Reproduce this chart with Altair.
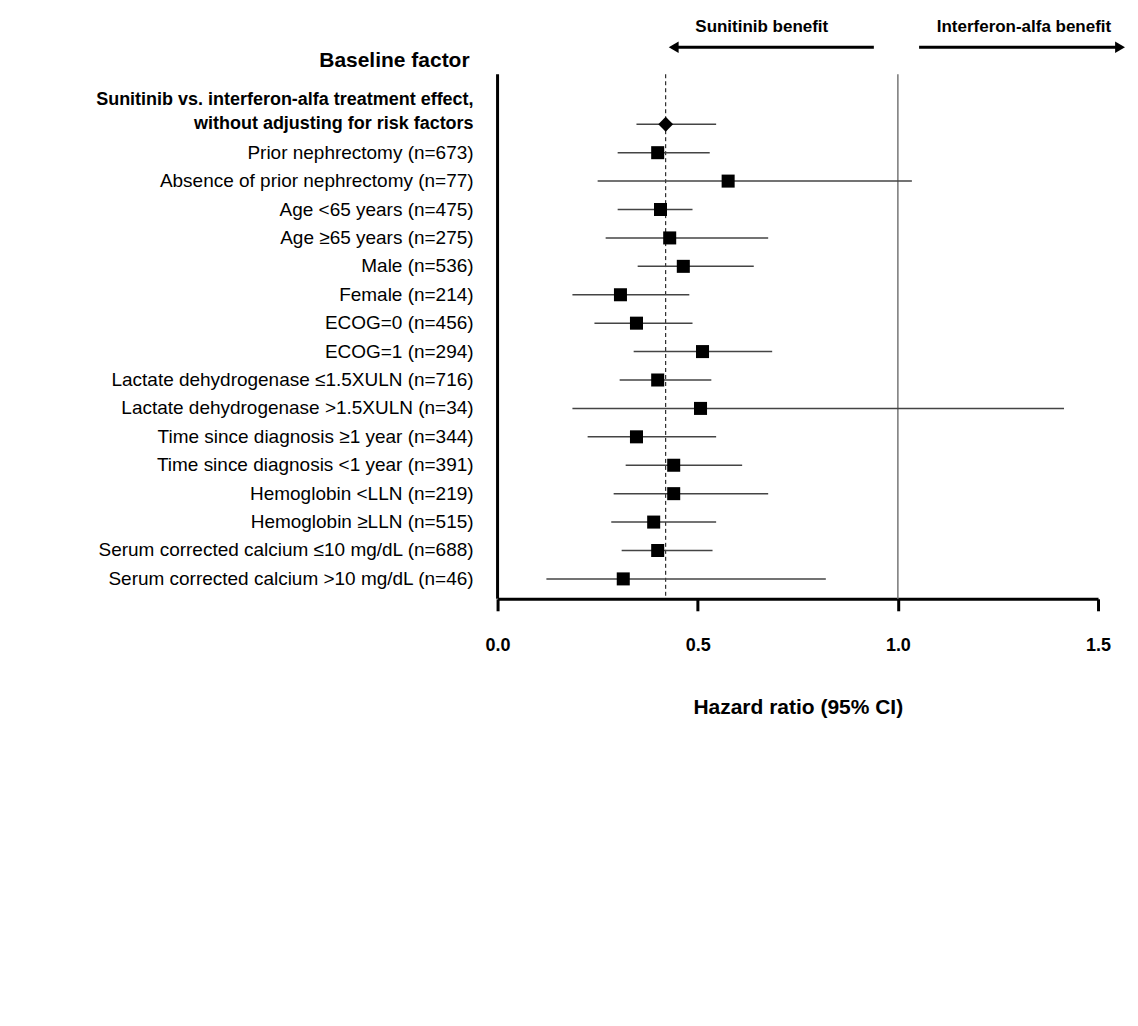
import pandas as pd
import altair as alt

FONT = "Liberation Sans"

labels = [
    "Sunitinib vs. interferon-alfa treatment effect,",
    "Prior nephrectomy (n=673)",
    "Absence of prior nephrectomy (n=77)",
    "Age <65 years (n=475)",
    "Age \u226565 years (n=275)",
    "Male (n=536)",
    "Female (n=214)",
    "ECOG=0 (n=456)",
    "ECOG=1 (n=294)",
    "Lactate dehydrogenase \u22641.5XULN (n=716)",
    "Lactate dehydrogenase >1.5XULN (n=34)",
    "Time since diagnosis \u22651 year (n=344)",
    "Time since diagnosis <1 year (n=391)",
    "Hemoglobin <LLN (n=219)",
    "Hemoglobin \u2265LLN (n=515)",
    "Serum corrected calcium \u226410 mg/dL (n=688)",
    "Serum corrected calcium >10 mg/dL (n=46)",
]
label0_second = "without adjusting for risk factors"
hr = [0.42, 0.40, 0.576, 0.407, 0.43, 0.464, 0.307, 0.347, 0.512, 0.40, 0.507,
      0.347, 0.44, 0.44, 0.39, 0.40, 0.314]
lo = [0.347, 0.30, 0.25, 0.30, 0.27, 0.35, 0.187, 0.242, 0.34, 0.305, 0.187,
      0.225, 0.32, 0.29, 0.284, 0.31, 0.122]
hi = [0.546, 0.53, 1.035, 0.487, 0.676, 0.64, 0.479, 0.487, 0.686, 0.534, 1.415,
      0.546, 0.611, 0.676, 0.546, 0.537, 0.82]

df = pd.DataFrame({"label": labels, "hr": hr, "lo": lo, "hi": hi, "row": range(len(labels))})

W, H = 601, 525
xs = alt.Scale(domain=[0, 1.5], nice=False)
ys = alt.Scale(domain=[-1.76, 16.7], nice=False, reverse=True)

base = alt.Chart(df)

ci = base.mark_rule(color="#444", strokeWidth=1.5).encode(
    x=alt.X("lo:Q", scale=xs, title="Hazard ratio (95% CI)",
            axis=alt.Axis(values=[0, 0.5, 1.0, 1.5], format=".1f", grid=False,
                          domainWidth=3, domainColor="black", tickWidth=3, tickColor="black",
                          tickSize=12, labelFontSize=18, labelFontWeight="bold",
                          labelFont=FONT, labelPadding=26, labelColor="black", labelFlush=False,
                          titleFont=FONT, titleFontSize=21, titleFontWeight="bold",
                          titlePadding=42, titleColor="black")),
    x2="hi:Q",
    y=alt.Y("row:Q", scale=ys, axis=None),
)

squares = base.transform_filter("datum.row > 0").mark_square(color="black", size=170, opacity=1).encode(
    x=alt.X("hr:Q", scale=xs), y=alt.Y("row:Q", scale=ys))
diamond = base.transform_filter("datum.row == 0").mark_point(
    shape="diamond", filled=True, color="black", size=220, opacity=1).encode(
    x=alt.X("hr:Q", scale=xs), y=alt.Y("row:Q", scale=ys))

txt = base.transform_filter("datum.row > 0").mark_text(
    align="right", baseline="middle", font=FONT, fontSize=19, color="black").encode(
    x=alt.value(-24), y=alt.Y("row:Q", scale=ys), text="label:N")
txt0 = base.transform_filter("datum.row == 0").mark_text(
    align="right", baseline="middle", font=FONT, fontSize=18, fontWeight="bold",
    color="black", dy=-24).encode(
    x=alt.value(-24), y=alt.Y("row:Q", scale=ys), text="label:N")
txt0b = alt.Chart(pd.DataFrame({"t": [label0_second], "row": [0]})).mark_text(
    align="right", baseline="middle", font=FONT, fontSize=18, fontWeight="bold",
    color="black").encode(
    x=alt.value(-24), y=alt.Y("row:Q", scale=ys), text="t:N")

header = alt.Chart(pd.DataFrame({"t": ["Baseline factor"]})).mark_text(
    align="right", baseline="middle", font=FONT, fontSize=21, fontWeight="bold", color="black").encode(
    x=alt.value(-28), y=alt.value(-13), text="t:N")

yaxis = alt.Chart(pd.DataFrame({"a": [0]})).mark_rule(color="black", strokeWidth=3).encode(
    x=alt.value(0), y=alt.value(0), y2=alt.value(H))
ref = alt.Chart(pd.DataFrame({"v": [0.42]})).mark_rule(color="black", strokeDash=[4, 3], strokeWidth=1).encode(
    x=alt.X("v:Q", scale=xs), y=alt.value(0), y2=alt.value(H))
one = alt.Chart(pd.DataFrame({"v": [1.0]})).mark_rule(color="#777", strokeWidth=1.5).encode(
    x=alt.X("v:Q", scale=xs), y=alt.value(0), y2=alt.value(H))

arrows = pd.DataFrame({"x1": [0.94, 1.053], "x2": [0.44, 1.55]})
arr = alt.Chart(arrows).mark_rule(color="black", strokeWidth=3).encode(
    x=alt.X("x1:Q", scale=xs), x2="x2:Q", y=alt.value(-27))
heads = pd.DataFrame({"x": [0.44, 1.555], "s": ["triangle-left", "triangle-right"]})
hd = alt.Chart(heads).mark_point(filled=True, color="black", size=130, opacity=1).encode(
    x=alt.X("x:Q", scale=xs), y=alt.value(-27),
    shape=alt.Shape("s:N", scale=None, legend=None))
tops = pd.DataFrame({"x": [0.66, 1.315], "t": ["Sunitinib benefit", "Interferon-alfa benefit"]})
toptxt = alt.Chart(tops).mark_text(font=FONT, fontSize=17, fontWeight="bold", color="black").encode(
    x=alt.X("x:Q", scale=xs), y=alt.value(-47), text="t:N")

chart = alt.layer(one, ref, ci, squares, diamond, txt, txt0, txt0b, header, yaxis, arr, hd, toptxt).properties(
    width=W, height=H, background="white", padding={"left": 87, "top": 10, "right": 5, "bottom": 5}
).configure_view(stroke=None)

chart.save("out.html", embed_options={"renderer": "svg", "actions": False})
